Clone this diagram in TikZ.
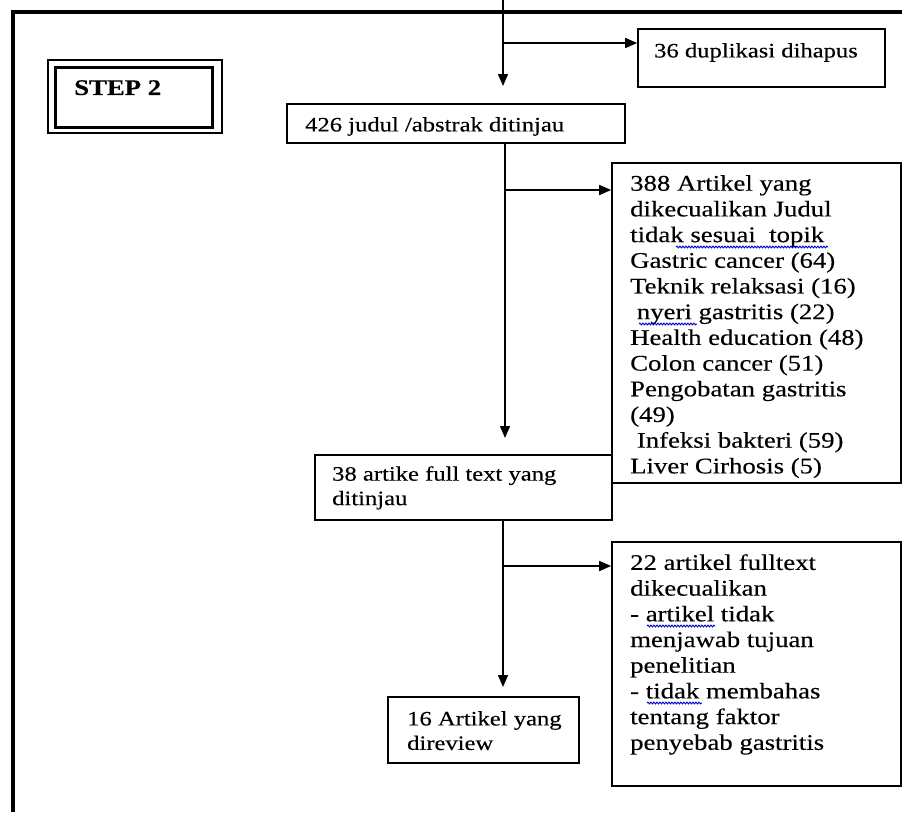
\documentclass[tikz,border=0pt]{standalone}
\usepackage{fontspec}
\setmainfont{Liberation Serif}[FakeStretch=1.2, FakeBold=0.3]
\usetikzlibrary{arrows.meta,calc,decorations.pathmorphing}
\tikzset{
  box/.style={draw, line width=1.6pt, inner sep=0pt},
  bigtxt/.style={inner sep=0pt, anchor=north west, align=left, font=\fontsize{22.3}{25.7}\selectfont},
  smalltxt/.style={inner sep=0pt, anchor=north west, align=left, font=\fontsize{20.5}{24.5}\selectfont},
  conn/.style={line width=1.5pt, -{Triangle[length=12pt,width=10pt]}},
  squiggle/.style={draw=blue!80!black, line width=0.9pt, decorate, decoration={snake, segment length=3pt, amplitude=0.9pt}},
}
\begin{document}
\begin{tikzpicture}[x=1pt,y=-1pt]
\useasboundingbox (0,0) rectangle (902,812);
% outer frame
\draw[line width=4pt] (13,812) -- (13,12) -- (904,12);
% STEP 2 double frame
\node[box, line width=1.5pt, minimum width=174pt, minimum height=73pt] (stepout) at (135,96.5) {};
\node[box, line width=3pt, minimum width=157pt, minimum height=60pt] (stepin) at (134,97) {};
\node[bigtxt, font=\fontsize{22.3}{25.7}\selectfont\bfseries] (steptxt) at (74,80) {STEP 2};
% boxes
\node[box, minimum width=247pt, minimum height=58pt] (b36) at (761.5,58) {};
\node[smalltxt] (t36) at (654,43) {36 duplikasi dihapus};
\node[box, minimum width=338pt, minimum height=39pt] (b426) at (456,123.5) {};
\node[smalltxt] (t426) at (305,117) {426 judul /abstrak ditinjau};
\node[box, minimum width=289pt, minimum height=320pt] (b388) at (756.5,323) {};
\node[bigtxt] (t388) at (630,175) {388 Artikel yang\\dikecualikan Judul\\tidak sesuai\ \ topik\\Gastric cancer (64)\\Teknik relaksasi (16)\\\hspace*{0.3em}nyeri gastritis (22)\\Health education (48)\\Colon cancer (51)\\Pengobatan gastritis\\(49)\\\hspace*{0.3em}Infeksi bakteri (59)\\Liver Cirhosis (5)};
\node[box, minimum width=297pt, minimum height=65pt] (b38) at (463.5,487.5) {};
\node[smalltxt] (t38) at (332,466) {38 artike full text yang\\ditinjau};
\node[box, minimum width=289pt, minimum height=244pt] (b22) at (756.5,664) {};
\node[bigtxt] (t22) at (630,554) {22 artikel fulltext\\dikecualikan\\- artikel tidak\\menjawab tujuan\\penelitian\\- tidak membahas\\tentang faktor\\penyebab gastritis};
\node[box, minimum width=191pt, minimum height=66pt] (b16) at (483.5,730) {};
\node[smalltxt] (t16) at (407,711) {16 Artikel yang\\direview};
% spell-check squiggles
\path[squiggle] (676,247) -- (828,247);
\path[squiggle] (639,324) -- (697,324);
\path[squiggle] (647,626) -- (715,626);
\path[squiggle] (647,703) -- (702,703);
% connectors
\coordinate (top) at (503,0);
\coordinate (tip1) at (503,86);
\draw[conn] (top) -- (tip1);
\coordinate (j1) at (503,43);
\draw[conn] (j1) -- (j1 -| b36.west);
\coordinate (tip2) at (505,438);
\draw[conn] (b426.south -| tip2) -- (tip2);
\coordinate (j2) at (505,190);
\draw[conn] (j2) -- (j2 -| b388.west);
\coordinate (tip3) at (503,687);
\draw[conn] (b38.south -| tip3) -- (tip3);
\coordinate (j3) at (503,566);
\draw[conn] (j3) -- (j3 -| b22.west);
\end{tikzpicture}
\end{document}
